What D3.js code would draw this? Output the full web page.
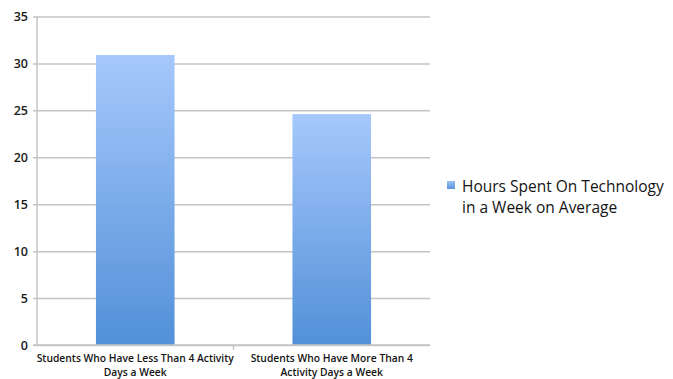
<!DOCTYPE html>
<html>
<head>
<meta charset="utf-8">
<script src="https://cdn.jsdelivr.net/npm/d3@7"></script>
<style>
  html, body { margin: 0; padding: 0; background: #fff; }
  svg { display: block; }
  text { font-family: "Open Sans", "Noto Sans", sans-serif; }
</style>
</head>
<body>
<svg id="chart" width="673" height="379"></svg>
<script>
// Category labels (each split into display lines)
const categories = [
  "Students Who Have Less Than 4 Activity Days a Week",
  "Students Who Have More Than 4 Activity Days a Week"
];
const categoryLines = [
  ["Students Who Have Less Than 4 Activity", "Days a Week"],
  ["Students Who Have More Than 4", "Activity Days a Week"]
];
// Average hours per week on technology
const hoursValues = [30.9, 24.6];
const seriesName = ["Hours Spent On Technology", "in a Week on Average"];
const yTicks = [0, 5, 10, 15, 20, 25, 30, 35];

const svg = d3.select("#chart");
const margin = { left: 37, right: 243, top: 16.5, bottom: 34 };
const W = 673, H = 379;

const x = d3.scaleBand()
  .domain(categories)
  .range([margin.left, W - margin.right])
  .paddingInner(0.6)
  .paddingOuter(0.3);

const y = d3.scaleLinear()
  .domain([0, 35])
  .range([H - margin.bottom, margin.top]);

// Bar gradient: light at top, deeper blue at base
const defs = svg.append("defs");
const grad = defs.append("linearGradient")
  .attr("id", "barGrad")
  .attr("x1", 0).attr("y1", 0).attr("x2", 0).attr("y2", 1);
grad.append("stop").attr("offset", "0%").attr("stop-color", "#a6c8fc");
grad.append("stop").attr("offset", "100%").attr("stop-color", "#5290d8");

const legGrad = defs.append("linearGradient")
  .attr("id", "legGrad")
  .attr("x1", 0).attr("y1", 0).attr("x2", 0).attr("y2", 1);
legGrad.append("stop").attr("offset", "0%").attr("stop-color", "#9dc1f6");
legGrad.append("stop").attr("offset", "100%").attr("stop-color", "#5a95dc");

// Horizontal gridlines with small left ticks
const yAxis = d3.axisLeft(y)
  .tickValues(yTicks)
  .tickSize(-(W - margin.right - margin.left))
  .tickSizeOuter(0)
  .tickPadding(9);

const gy = svg.append("g")
  .attr("transform", `translate(${margin.left},0)`)
  .call(yAxis);
gy.select(".domain").remove();
gy.selectAll(".tick line")
  .attr("x1", -4)
  .attr("stroke", "#c4c4c4")
  .attr("stroke-width", 1.5);
gy.selectAll(".tick text")
  .attr("fill", "#1a1a1a")
  .style("font-size", "12.5px")
  .style("font-weight", "600")
  .style("font-family", "'Open Sans', sans-serif");

// Vertical axis line
svg.append("line")
  .attr("x1", margin.left).attr("x2", margin.left)
  .attr("y1", y(35)).attr("y2", y(0) + 1)
  .attr("stroke", "#c4c4c4")
  .attr("stroke-width", 1.5);

// Bars
svg.append("g").selectAll("rect")
  .data(hoursValues)
  .join("rect")
  .attr("x", (d, i) => x(categories[i]))
  .attr("y", d => y(d))
  .attr("width", x.bandwidth())
  .attr("height", d => y(0) - y(d))
  .attr("fill", "url(#barGrad)");

// Baseline drawn over the bars
svg.append("line")
  .attr("x1", margin.left - 4).attr("x2", W - margin.right)
  .attr("y1", y(0)).attr("y2", y(0))
  .attr("stroke", "#c4c4c4")
  .attr("stroke-width", 1.5);

// Category separator tick
const midX = x(categories[0]) + x.bandwidth() / 2 + (x(categories[1]) - x(categories[0])) / 2;
svg.append("line")
  .attr("x1", midX).attr("x2", midX)
  .attr("y1", y(0)).attr("y2", y(0) + 5)
  .attr("stroke", "#c4c4c4")
  .attr("stroke-width", 1.5);

// Category labels
const lbl = svg.append("g").selectAll("text")
  .data(categories)
  .join("text")
  .attr("x", d => x(d) + x.bandwidth() / 2)
  .attr("y", y(0) + 17)
  .attr("text-anchor", "middle")
  .attr("fill", "#141414")
  .style("font-size", "10.3px")
  .style("font-weight", "600");
lbl.each(function(d, i) {
  const t = d3.select(this);
  categoryLines[i].forEach((line, k) => {
    t.append("tspan")
      .attr("x", x(d) + x.bandwidth() / 2)
      .attr("dy", k === 0 ? 0 : 14)
      .text(line);
  });
});

// Legend
const leg = svg.append("g");
leg.append("rect")
  .attr("x", 447).attr("y", 181)
  .attr("width", 8).attr("height", 8)
  .attr("fill", "url(#legGrad)");
const legText = leg.append("text")
  .attr("x", 462).attr("y", 192)
  .attr("fill", "#141414")
  .style("font-size", "15.5px")
  .style("font-weight", "500");
seriesName.forEach((line, k) => {
  legText.append("tspan")
    .attr("x", 462)
    .attr("dy", k === 0 ? 0 : 21)
    .text(line);
});
</script>
</body>
</html>
